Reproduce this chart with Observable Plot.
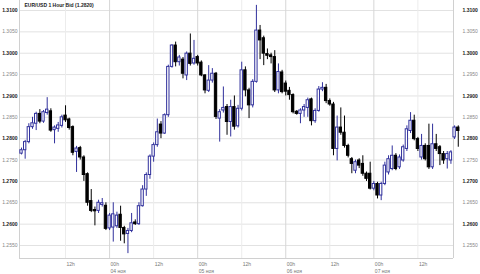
<!DOCTYPE html>
<html>
<head>
<meta charset="utf-8">
<script src="https://cdn.jsdelivr.net/npm/d3@7"></script>
<script src="https://cdn.jsdelivr.net/npm/@observablehq/plot@0.6"></script>
<style>
  html, body { margin: 0; padding: 0; background: #fff; }
  #chart svg { display: block; }
</style>
</head>
<body>
<div id="chart"></div>
<script>
const title = "EUR/USD 1 Hour Bid (1.2820)";
const startUTC = Date.UTC(2008, 10, 3, 0);

const opens = [
  1.2765,1.2773,1.2792,1.2827,1.2835,1.2858,1.2840,1.2860,1.2864,1.2820,
  1.2823,1.2830,1.2854,1.2845,1.2827,1.2769,1.2778,1.2756,1.2717,1.2654,
  1.2633,1.2631,1.2645,1.2643,1.2590,1.2592,1.2595,1.2622,1.2591,1.2577,
  1.2584,1.2604,1.2600,1.2642,1.2681,1.2715,1.2758,1.2785,1.2833,1.2812,
  1.2855,1.2968,1.3018,1.2979,1.2985,1.2948,1.2999,1.2976,1.2991,1.2978,
  1.2948,1.2912,1.2936,1.2952,1.2847,1.2866,1.2874,1.2839,1.2874,1.2829,
  1.2870,1.2960,1.2913,1.2878,1.2933,1.3053,1.3035,1.2998,1.2995,1.2991,
  1.2913,1.2955,1.2929,1.2912,1.2902,1.2863,1.2858,1.2866,1.2872,1.2892,
  1.2841,1.2865,1.2915,1.2919,1.2888,1.2880,1.2776,1.2826,1.2814,1.2783,
  1.2752,1.2725,1.2749,1.2741,1.2718,1.2718,1.2683,1.2694,1.2667,1.2694,
  1.2721,1.2729,1.2760,1.2733,1.2749,1.2776,1.2818,1.2842,1.2799,1.2756,
  1.2783,1.2783,1.2733,1.2787,1.2780,1.2764,1.2752,1.2749,1.2803,1.2826
];
const closes = [
  1.2773,1.2792,1.2827,1.2836,1.2858,1.2840,1.2862,1.2868,1.2819,1.2826,
  1.2831,1.2850,1.2843,1.2825,1.2767,1.2777,1.2756,1.2715,1.2650,1.2631,
  1.2630,1.2650,1.2649,1.2589,1.2620,1.2623,1.2620,1.2591,1.2576,1.2584,
  1.2602,1.2600,1.2642,1.2681,1.2715,1.2758,1.2785,1.2815,1.2812,1.2855,
  1.2968,1.3018,1.2979,1.2990,1.2952,1.2999,1.2975,1.2987,1.2976,1.2948,
  1.2913,1.2936,1.2952,1.2851,1.2862,1.2872,1.2839,1.2874,1.2828,1.2870,
  1.2960,1.2913,1.2878,1.2933,1.3053,1.3030,1.2999,1.2994,1.2991,1.2913,
  1.2956,1.2909,1.2910,1.2902,1.2862,1.2858,1.2866,1.2874,1.2890,1.2841,
  1.2865,1.2915,1.2919,1.2888,1.2880,1.2776,1.2826,1.2814,1.2783,1.2760,
  1.2741,1.2745,1.2737,1.2718,1.2706,1.2683,1.2694,1.2667,1.2694,1.2737,
  1.2752,1.2760,1.2729,1.2756,1.2780,1.2822,1.2842,1.2799,1.2776,1.2783,
  1.2752,1.2733,1.2787,1.2776,1.2764,1.2749,1.2764,1.2768,1.2826,1.2818
];
const highs = [
  1.2778,1.2796,1.2835,1.2850,1.2862,1.2868,1.2866,1.2896,1.2870,1.2830,
  1.2838,1.2855,1.2877,1.2848,1.2830,1.2782,1.2782,1.2760,1.2720,1.2681,
  1.2640,1.2656,1.2660,1.2650,1.2625,1.2650,1.2628,1.2642,1.2595,1.2590,
  1.2625,1.2610,1.2650,1.2690,1.2720,1.2762,1.2790,1.2846,1.2840,1.2858,
  1.2972,1.3020,1.3026,1.2995,1.2990,1.3003,1.3045,1.3030,1.2995,1.2982,
  1.2950,1.2971,1.2964,1.2955,1.2868,1.2921,1.2880,1.2890,1.2900,1.2878,
  1.2979,1.2968,1.2918,1.2938,1.3112,1.3065,1.3040,1.3010,1.3000,1.3006,
  1.2975,1.2960,1.2935,1.2920,1.2905,1.2866,1.2870,1.2880,1.2895,1.2895,
  1.2870,1.2922,1.2931,1.2927,1.2893,1.2885,1.2853,1.2872,1.2853,1.2787,
  1.2756,1.2750,1.2753,1.2760,1.2722,1.2745,1.2700,1.2698,1.2698,1.2745,
  1.2760,1.2783,1.2765,1.2762,1.2785,1.2830,1.2861,1.2855,1.2803,1.2810,
  1.2788,1.2834,1.2834,1.2810,1.2784,1.2770,1.2770,1.2772,1.2830,1.2830
];
const lows = [
  1.2762,1.2752,1.2788,1.2822,1.2819,1.2835,1.2836,1.2855,1.2815,1.2788,
  1.2815,1.2825,1.2838,1.2820,1.2760,1.2721,1.2750,1.2700,1.2642,1.2627,
  1.2596,1.2625,1.2640,1.2585,1.2585,1.2558,1.2590,1.2560,1.2554,1.2531,
  1.2580,1.2597,1.2597,1.2640,1.2665,1.2705,1.2745,1.2780,1.2800,1.2810,
  1.2850,1.2965,1.2968,1.2970,1.2940,1.2936,1.2970,1.2972,1.2970,1.2945,
  1.2905,1.2908,1.2930,1.2845,1.2792,1.2860,1.2808,1.2804,1.2820,1.2825,
  1.2865,1.2898,1.2847,1.2872,1.2930,1.2985,1.2971,1.2985,1.2975,1.2908,
  1.2905,1.2905,1.2900,1.2890,1.2858,1.2855,1.2835,1.2850,1.2850,1.2830,
  1.2836,1.2862,1.2910,1.2882,1.2876,1.2760,1.2748,1.2808,1.2778,1.2755,
  1.2718,1.2718,1.2730,1.2712,1.2700,1.2680,1.2678,1.2659,1.2655,1.2690,
  1.2715,1.2725,1.2725,1.2728,1.2745,1.2770,1.2812,1.2795,1.2770,1.2750,
  1.2748,1.2728,1.2728,1.2770,1.2737,1.2740,1.2729,1.2740,1.2798,1.2780
];

const yTicks = [1.3100,1.3050,1.3000,1.2950,1.2900,1.2850,1.2800,1.2750,1.2700,1.2650,1.2600,1.2550];
const yTickLabels = ["1.3100","1.3050","1.3000","1.2950","1.2900","1.2850","1.2800","1.2750","1.2700","1.2650","1.2600","1.2550"];
const xTickHours = [12, 24, 36, 48, 60, 72, 84, 96, 108];
const xTickLabels = ["12h","00h\n04 ноя","12h","00h\n05 ноя","12h","00h\n06 ноя","12h","00h\n07 ноя","12h"];

const H = 3600e3;
const candles = opens.map((o, i) => ({
  t: new Date(startUTC + i * H),
  open: o, close: closes[i], high: highs[i], low: lows[i],
  up: closes[i] >= o
}));
const xTicks = xTickHours.map(h => new Date(startUTC + h * H));
const xTicks00 = xTicks.filter((d, i) => xTickLabels[i].startsWith("00h"));
const xTicks12 = xTicks.filter((d, i) => !xTickLabels[i].startsWith("00h"));
const boldTicks = yTicks.filter((d, i) => i % 2 === 0);
const lightTicks = yTicks.filter((d, i) => i % 2 === 1);
const labelOf = v => yTickLabels[yTicks.indexOf(v)];

const BLUE = "#30309c";
const xDomain = [new Date(startUTC - 0.545 * H), new Date(startUTC + 117.7 * H)];
const yDomain = [1.25196, 1.31234];

const chart = Plot.plot({
  width: 480,
  height: 274,
  marginLeft: 19,
  marginRight: 27,
  marginTop: 0,
  marginBottom: 16,
  style: { fontFamily: "'Liberation Sans', Arial, sans-serif", fontSize: "5px", background: "#fff", overflow: "visible" },
  x: { type: "utc", domain: xDomain, axis: null },
  y: { domain: yDomain, axis: null },
  marks: [
    Plot.gridY(yTicks, { stroke: "#e2e2e2", strokeOpacity: 1 }),
    Plot.gridX(xTicks12, { stroke: "#ececec", strokeOpacity: 1 }),
    Plot.gridX(xTicks00, { stroke: "#d6d6d6", strokeOpacity: 1 }),
    Plot.ruleX([xDomain[0], xDomain[1]], { stroke: "#d0d0d0" }),
    Plot.ruleY([yDomain[0]], { stroke: "#d0d0d0" }),
    // wicks
    Plot.ruleX(candles, { x: "t", y1: "low", y2: "high", stroke: d => d.up ? BLUE : "#000", strokeWidth: 1 }),
    // bodies
    Plot.rect(candles, {
      x1: d => new Date(+d.t - 0.32 * H),
      x2: d => new Date(+d.t + 0.32 * H),
      y1: "open", y2: "close",
      fill: d => d.up ? "#fff" : "#000",
      stroke: d => d.up ? BLUE : "#000",
      strokeWidth: 1
    }),
    // y labels left
    Plot.text(boldTicks, { y: d => d, text: labelOf, frameAnchor: "left", textAnchor: "end", dx: -2, fill: "#222", fontWeight: "bold", fontSize: 5 }),
    Plot.text(lightTicks, { y: d => d, text: labelOf, frameAnchor: "left", textAnchor: "end", dx: -2, fill: "#888", fontSize: 5 }),
    // y labels right
    Plot.text(boldTicks, { y: d => d, text: labelOf, frameAnchor: "right", textAnchor: "start", dx: 9, fill: "#222", fontWeight: "bold", fontSize: 5 }),
    Plot.text(lightTicks, { y: d => d, text: labelOf, frameAnchor: "right", textAnchor: "start", dx: 9, fill: "#888", fontSize: 5 }),
    // x labels
    Plot.text(xTicks, { x: d => d, text: (d, i) => xTickLabels[i], frameAnchor: "bottom", textAnchor: "start", lineAnchor: "top", dx: 1, dy: 3, lineHeight: 1.35, fill: "#777", fontSize: 5 }),
    // title
    Plot.text([title], { text: d => d, frameAnchor: "top-left", textAnchor: "start", lineAnchor: "top", dx: 5, dy: 3, fill: "#222", fontWeight: "bold", fontSize: 5 })
  ]
});
document.getElementById("chart").appendChild(chart);
</script>
</body>
</html>
